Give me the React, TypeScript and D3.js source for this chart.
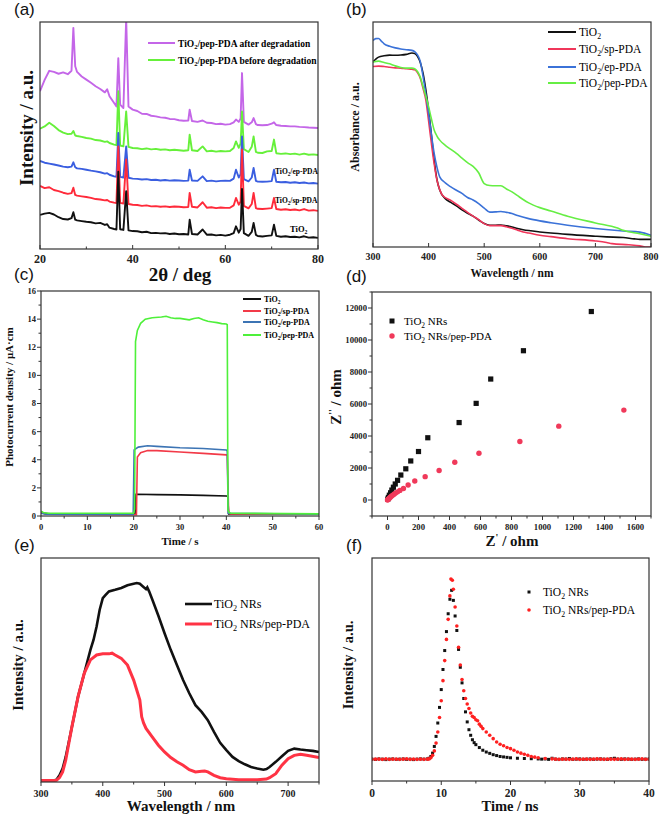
import React from 'react';
import * as d3 from 'd3';

type Pt = [number, number];

// ---------- (a) XRD patterns (normalised intensity 0-100) ----------
const xrdAngles = [20, 21, 22, 23, 24, 25, 26, 26.8, 27.2, 27.6, 28, 29, 30, 31, 32, 33, 34, 34.5, 35, 36, 36.5, 36.9, 37.3, 38, 38.6, 39.1, 40, 41, 42, 43, 44, 45, 46, 47, 48, 49, 50, 51, 52, 52.3, 52.8, 54, 55.1, 56, 57, 58, 59, 60, 61, 61.8, 62.3, 62.9, 63.3, 63.6, 64, 65, 65.7, 66.1, 66.6, 67, 68, 69, 70, 70.5, 71, 72, 73, 74, 75, 76, 77, 78, 79, 80];
const xrdTiO2 = [15.0, 15.6, 15.9, 15.2, 14.0, 13.2, 13.0, 13.6, 16.2, 12.9, 12.6, 12.3, 12.0, 11.8, 11.3, 11.5, 10.6, 10.9, 9.4, 8.8, 8.6, 34.0, 8.7, 8.4, 25.5, 8.2, 7.9, 7.8, 7.4, 7.6, 7.0, 7.1, 6.9, 7.0, 6.6, 6.8, 6.5, 6.6, 6.4, 12.9, 6.6, 6.4, 8.6, 6.3, 6.4, 6.0, 6.2, 5.9, 6.3, 7.0, 10.0, 7.2, 8.8, 26.5, 7.0, 5.8, 7.5, 11.5, 6.2, 5.7, 5.5, 5.8, 6.0, 10.7, 5.8, 5.4, 5.6, 5.3, 5.4, 5.1, 5.6, 5.0, 5.2, 4.9];
const xrdSp = [27.8, 26.8, 27.2, 26.0, 25.5, 24.8, 24.3, 24.6, 27.0, 23.8, 23.5, 23.2, 22.9, 22.5, 22.0, 21.8, 21.4, 21.6, 20.9, 20.4, 20.2, 45.2, 20.3, 20.0, 39.4, 19.8, 19.5, 19.4, 19.0, 19.2, 18.8, 18.9, 18.6, 18.8, 18.5, 18.7, 18.6, 18.4, 18.5, 24.7, 18.6, 18.3, 20.6, 18.2, 18.4, 18.0, 18.3, 18.1, 18.2, 19.2, 22.5, 19.5, 21.0, 43.8, 19.0, 17.9, 19.8, 24.7, 18.0, 17.7, 17.6, 17.8, 18.0, 22.5, 17.6, 17.3, 17.5, 17.2, 17.4, 17.0, 17.6, 16.9, 17.1, 16.8];
const xrdEp = [38.8, 38.0, 37.6, 37.2, 36.8, 36.3, 36.0, 36.3, 38.2, 36.0, 35.5, 35.3, 34.9, 34.5, 34.2, 33.8, 33.2, 33.4, 32.7, 32.0, 31.8, 51.1, 31.8, 31.5, 45.2, 31.4, 31.0, 30.9, 30.6, 30.8, 30.4, 30.5, 30.2, 30.4, 30.1, 30.3, 30.2, 30.0, 30.1, 34.9, 30.2, 30.0, 32.0, 29.9, 30.1, 29.8, 30.0, 30.1, 30.0, 31.0, 34.9, 31.5, 33.0, 49.6, 30.8, 29.8, 31.5, 35.7, 30.0, 29.7, 29.6, 29.7, 29.9, 34.9, 29.6, 29.4, 29.5, 29.2, 29.4, 29.1, 29.3, 28.9, 29.1, 28.8];
const xrdBefore = [53.0, 54.0, 55.6, 54.2, 52.4, 51.3, 50.6, 50.8, 52.0, 50.0, 49.8, 49.4, 48.9, 48.6, 48.0, 47.8, 47.2, 47.4, 46.7, 46.0, 45.8, 69.5, 45.6, 45.2, 60.6, 45.0, 44.5, 44.4, 44.0, 44.3, 43.9, 44.1, 43.7, 43.9, 43.5, 43.7, 43.5, 43.3, 43.5, 50.4, 43.5, 43.2, 45.2, 43.0, 43.3, 42.9, 43.2, 43.0, 43.2, 44.5, 47.4, 44.6, 46.5, 60.6, 44.0, 42.7, 45.0, 49.6, 42.8, 42.4, 42.3, 43.0, 43.2, 48.2, 42.2, 41.9, 42.1, 41.8, 42.0, 41.6, 42.0, 41.5, 41.7, 41.4];
const xrdAfter = [69.5, 74.5, 78.5, 78.0, 77.2, 77.8, 77.0, 78.5, 97.4, 80.5, 78.0, 76.0, 74.6, 73.2, 71.7, 70.5, 69.0, 70.4, 67.3, 64.3, 62.8, 84.1, 63.6, 62.1, 101.5, 62.8, 61.4, 60.8, 59.6, 59.5, 58.7, 58.4, 58.0, 57.8, 57.3, 57.2, 56.7, 56.5, 56.6, 61.4, 56.4, 56.0, 56.6, 55.6, 55.5, 55.0, 55.2, 54.8, 55.0, 55.8, 57.0, 56.0, 57.5, 77.5, 56.0, 54.8, 55.8, 57.7, 55.0, 54.6, 54.5, 54.6, 55.2, 55.8, 54.6, 54.3, 54.2, 54.0, 54.0, 53.8, 53.7, 53.5, 53.4, 53.3];
const xrdTicks = [20, 40, 60, 80];
const xrdMinor = [30, 50, 70];

// ---------- (b) UV-vis absorbance ----------
const absTiO2: Pt[] = [[300, 82.2], [305, 83.5], [310, 84.4], [320, 85.0], [330, 85.3], [340, 85.2], [350, 85.3], [360, 85.6], [370, 86.2], [375, 86.0], [380, 84.7], [385, 82.0], [390, 77.3], [395, 70.0], [400, 60.9], [405, 50.0], [410, 38.6], [415, 30.0], [420, 25.3], [430, 21.5], [440, 19.8], [450, 18.3], [460, 16.5], [470, 15.0], [480, 13.7], [490, 12.0], [500, 10.4], [510, 9.7], [520, 9.7], [530, 9.8], [540, 9.4], [550, 8.9], [560, 8.2], [570, 7.7], [580, 7.3], [600, 6.7], [620, 6.2], [650, 5.6], [700, 4.8], [720, 4.5], [750, 4.2], [770, 3.6], [780, 3.4], [800, 3.4]];
const absSp: Pt[] = [[300, 80.2], [310, 80.4], [320, 80.2], [330, 79.9], [340, 79.6], [350, 79.5], [360, 79.2], [370, 79.0], [375, 78.8], [380, 77.5], [385, 75.0], [390, 70.5], [395, 65.4], [400, 56.0], [405, 46.1], [410, 37.0], [415, 29.7], [420, 25.5], [425, 23.0], [440, 20.7], [450, 19.0], [460, 17.2], [470, 15.4], [480, 13.7], [490, 12.2], [500, 10.4], [510, 9.5], [520, 9.5], [530, 9.5], [540, 9.0], [550, 8.3], [560, 7.5], [570, 6.7], [580, 6.2], [600, 5.2], [620, 4.6], [650, 3.7], [700, 2.7], [720, 2.0], [730, 1.5], [760, 1.0], [780, 0.5], [790, 0.0], [800, 0.0]];
const absEp: Pt[] = [[300, 91.8], [305, 92.6], [310, 92.7], [315, 91.5], [320, 90.3], [330, 89.2], [340, 88.5], [350, 88.0], [360, 87.7], [370, 87.4], [375, 86.8], [380, 85.4], [385, 82.5], [390, 75.8], [395, 68.0], [400, 59.4], [405, 50.0], [410, 41.6], [415, 35.5], [420, 31.2], [430, 28.5], [440, 26.7], [450, 25.2], [460, 23.8], [470, 22.0], [480, 20.9], [490, 19.3], [500, 17.3], [510, 15.5], [520, 15.6], [530, 15.8], [540, 15.4], [550, 14.9], [560, 14.0], [580, 12.6], [600, 11.6], [620, 10.8], [650, 9.7], [700, 8.2], [750, 7.1], [780, 6.6], [800, 5.2]];
const absPep: Pt[] = [[300, 82.2], [310, 82.6], [320, 82.0], [330, 81.4], [340, 80.5], [350, 79.8], [360, 79.5], [370, 79.5], [375, 79.2], [380, 78.0], [385, 75.5], [390, 71.3], [395, 67.0], [400, 62.4], [405, 57.0], [410, 52.0], [415, 49.3], [420, 47.5], [430, 45.2], [440, 43.4], [450, 41.6], [460, 39.5], [470, 37.5], [480, 35.8], [490, 33.0], [500, 28.2], [510, 27.3], [520, 27.2], [530, 27.2], [540, 25.8], [550, 24.5], [560, 22.8], [570, 21.1], [580, 19.6], [600, 17.5], [620, 16.0], [650, 13.7], [700, 10.7], [740, 8.4], [750, 7.4], [780, 5.9], [800, 4.8]];
const absTicks = [300, 400, 500, 600, 700, 800];

// ---------- (c) photocurrent ----------
const pcTiO2: Pt[] = [[0, 0.3], [0.5, 0.2], [2, 0.15], [20.3, 0.15], [20.5, 1.55], [25, 1.52], [30, 1.5], [35, 1.47], [40, 1.42], [40.3, 1.4], [40.5, 0.15], [60, 0.15]];
const pcSp: Pt[] = [[0, 0.25], [1, 0.12], [20.6, 0.1], [20.8, 4.2], [21.5, 4.5], [23, 4.65], [25, 4.65], [30, 4.55], [35, 4.45], [40, 4.35], [40.2, 4.3], [40.5, 0.2], [41, 0.15], [60, 0.12]];
const pcEp: Pt[] = [[0, 0.2], [1, 0.12], [19.9, 0.12], [20.1, 4.7], [21, 4.9], [23, 5.0], [25, 4.95], [30, 4.85], [35, 4.8], [40, 4.7], [40.2, 4.6], [40.4, 0.2], [60, 0.12]];
const pcPep: Pt[] = [[0, 0.35], [0.5, 0.25], [1.5, 0.2], [20, 0.2], [20.2, 0.5], [20.4, 12.4], [20.8, 13.2], [21.5, 13.7], [22.5, 14.0], [24, 14.1], [26, 14.15], [27, 14.2], [28, 14.1], [29, 14.05], [30, 14.05], [31, 14.0], [32, 13.95], [33, 14.05], [34, 14.1], [35, 13.95], [36, 13.85], [37, 13.8], [38, 13.75], [39, 13.68], [40, 13.65], [40.2, 13.6], [40.35, 0.4], [40.6, 0.25], [41, 0.2], [60, 0.15]];
const pcXTicks = [0, 10, 20, 30, 40, 50, 60];
const pcXMinor = [5, 15, 25, 35, 45, 55];
const pcYTicks = [0, 2, 4, 6, 8, 10, 12, 14, 16];
const pcYMinor = [1, 3, 5, 7, 9, 11, 13, 15];

// ---------- (d) Nyquist ----------
const eisTiO2: Pt[] = [[1315, 11780], [877, 9330], [666, 7560], [572, 6040], [462, 4840], [260, 3890], [200, 3030], [150, 2440], [118, 1950], [86, 1560], [65, 1230], [50, 1000], [38, 800], [28, 620], [20, 450], [12, 300], [6, 160], [2, 60]];
const eisPep: Pt[] = [[1525, 5620], [1105, 4615], [854, 3655], [590, 2925], [434, 2360], [333, 1840], [243, 1460], [176, 1190], [133, 940], [103, 720], [80, 600], [65, 510], [52, 430], [42, 360], [33, 290], [25, 230], [18, 170], [12, 115], [7, 70], [3, 30], [0, 0]];
const eisXTicks = [0, 200, 400, 600, 800, 1000, 1200, 1400, 1600];
const eisXMinor = [-100, 100, 300, 500, 700, 900, 1100, 1300, 1500, 1700];
const eisYTicks = [0, 2000, 4000, 6000, 8000, 10000, 12000];
const eisYMinor = [-1000, 1000, 3000, 5000, 7000, 9000, 11000, 13000];

// ---------- (e) PL spectra ----------
const plTiO2: Pt[] = [[300, 0.7], [320, 0.7], [325, 1.0], [330, 3.0], [335, 6.0], [340, 11.2], [345, 17.9], [350, 24.6], [360, 38.1], [370, 48.5], [380, 59.0], [385, 63.4], [390, 69.4], [395, 76.9], [400, 82.1], [405, 83.6], [410, 85.1], [420, 85.8], [430, 86.6], [440, 87.8], [450, 88.5], [455, 88.8], [460, 88.5], [465, 87.3], [470, 86.1], [472, 86.9], [475, 85.1], [480, 81.6], [490, 74.2], [500, 66.4], [510, 59.0], [520, 52.2], [530, 45.5], [540, 39.6], [550, 34.3], [560, 31.3], [570, 27.6], [580, 22.4], [590, 17.5], [600, 14.2], [610, 11.2], [620, 9.3], [630, 7.9], [640, 6.7], [650, 6.0], [660, 5.5], [665, 5.8], [670, 6.7], [680, 9.0], [690, 11.5], [700, 13.9], [710, 14.9], [720, 14.5], [730, 14.2], [740, 13.9], [750, 13.4]];
const plPep: Pt[] = [[300, 0.7], [320, 0.7], [325, 0.8], [330, 2.0], [335, 4.5], [340, 9.7], [345, 17.2], [350, 24.6], [360, 38.1], [370, 48.5], [380, 54.5], [390, 56.7], [400, 57.2], [410, 57.2], [415, 57.5], [420, 56.7], [430, 55.2], [440, 52.2], [450, 45.5], [460, 36.6], [463, 29.1], [466, 26.4], [470, 23.9], [480, 20.1], [490, 16.4], [500, 13.4], [510, 10.9], [520, 9.0], [530, 7.5], [540, 5.5], [550, 4.5], [560, 4.8], [565, 4.9], [570, 4.5], [580, 3.0], [590, 1.9], [600, 1.5], [620, 1.0], [650, 1.0], [665, 1.3], [670, 1.9], [680, 3.7], [690, 7.5], [700, 10.4], [710, 11.9], [720, 12.4], [730, 11.9], [750, 10.9]];
const plTicks = [300, 400, 500, 600, 700];
const plMinor = [350, 450, 550, 650, 750];

// ---------- (f) TRPL decay ----------
const trTiO2: Pt[] = [[0, 9.8], [0.5, 9.7], [1, 9.9], [1.5, 9.8], [2, 9.6], [2.5, 9.8], [3, 9.9], [3.5, 9.7], [4, 9.8], [4.5, 9.9], [5, 9.7], [5.5, 9.8], [6, 9.6], [6.5, 9.8], [7, 9.9], [7.5, 9.8], [8, 9.9], [8.25, 10.2], [8.5, 11.0], [8.75, 12.5], [9, 15.5], [9.25, 20.0], [9.5, 26.0], [9.75, 33.0], [10, 41.0], [10.25, 50.0], [10.5, 58.5], [10.75, 67.0], [11, 75.0], [11.25, 81.5], [11.5, 85.5], [11.75, 81.0], [12, 74.0], [12.25, 67.5], [12.5, 59.0], [12.75, 51.0], [13, 44.0], [13.25, 37.0], [13.5, 31.0], [13.75, 26.5], [14, 23.0], [14.25, 20.5], [14.5, 18.5], [14.75, 17.2], [15, 16.3], [15.5, 15.0], [16, 13.8], [16.5, 13.0], [17, 12.4], [17.5, 11.8], [18, 11.4], [18.5, 11.0], [19, 10.8], [19.5, 10.6], [20, 10.4], [21, 10.2], [22, 10.1], [23, 10.0], [24, 9.9], [24.5, 9.8], [25, 9.9], [25.5, 9.7], [26, 10.2], [26.5, 9.8], [27, 9.7], [27.5, 9.9], [28, 9.8], [28.5, 10.1], [29, 9.7], [29.5, 9.8], [30, 9.9], [30.5, 9.7], [31, 9.8], [31.5, 9.9], [32, 9.7], [32.5, 9.8], [33, 9.9], [33.5, 9.8], [34, 9.7], [34.5, 10.0], [35, 10.2], [35.5, 9.8], [36, 9.7], [36.5, 9.9], [37, 9.8], [37.5, 9.7], [38, 9.8], [38.5, 9.9], [39, 9.7], [39.5, 9.8], [40, 9.8]];
const trPep: Pt[] = [[0, 9.7], [0.5, 9.8], [1, 9.8], [1.5, 9.7], [2, 9.9], [2.5, 9.7], [3, 9.8], [3.5, 9.8], [4, 9.7], [4.5, 9.8], [5, 9.9], [5.5, 9.7], [6, 9.8], [6.5, 9.7], [7, 9.8], [7.5, 9.7], [8, 9.8], [8.25, 9.9], [8.5, 10.4], [8.75, 11.5], [9, 13.5], [9.25, 17.0], [9.5, 22.0], [9.75, 28.5], [10, 36.0], [10.25, 45.0], [10.5, 54.0], [10.75, 63.5], [11, 72.5], [11.25, 83.0], [11.4, 90.6], [11.6, 90.0], [11.75, 86.0], [12, 78.0], [12.25, 69.5], [12.5, 60.0], [12.75, 52.0], [13, 45.5], [13.25, 40.5], [13.5, 37.0], [13.75, 34.5], [14, 32.5], [14.25, 30.5], [14.5, 29.0], [14.75, 28.5], [15, 27.5], [15.25, 27.0], [15.5, 25.5], [15.75, 24.5], [16, 23.5], [16.5, 22.0], [17, 20.5], [17.5, 19.0], [18, 17.5], [18.5, 16.5], [19, 15.8], [19.5, 15.0], [20, 14.5], [20.5, 13.8], [21, 13.0], [21.5, 12.5], [22, 12.0], [22.5, 11.5], [23, 11.0], [23.5, 10.7], [24, 10.4], [25, 10.1], [26, 9.9], [26.5, 9.8], [27, 9.7], [27.5, 9.8], [28, 9.8], [28.5, 9.7], [29, 9.8], [29.5, 9.9], [30, 9.7], [30.5, 9.8], [31, 9.8], [31.5, 9.7], [32, 9.8], [32.5, 9.9], [33, 9.8], [33.5, 9.7], [34, 9.8], [34.5, 9.8], [35, 9.7], [35.5, 9.8], [36, 9.9], [36.5, 9.7], [37, 9.8], [37.5, 9.8], [38, 9.7], [38.5, 9.8], [39, 9.9], [39.5, 9.7], [40, 9.8]];
const trTicks = [0, 10, 20, 30, 40];
const trMinor = [5, 15, 25, 35];

const serif = '"Liberation Serif", "Times New Roman", serif';
const sans = '"Liberation Sans", Arial, sans-serif';

type Box = { l: number; r: number; t: number; b: number };
type Scale = d3.ScaleLinear<number, number>;

// TiO2 -> TiO<sub>2</sub>
function rich(s: string, fs: number) {
  const parts = s.split('TiO2');
  const out: React.ReactNode[] = [];
  parts.forEach((p, i) => {
    if (i > 0) {
      out.push(<tspan key={`o${i}`}>TiO</tspan>);
      out.push(<tspan key={`s${i}`} dy={fs * 0.28} fontSize={fs * 0.68}>2</tspan>);
      if (p) out.push(<tspan key={`r${i}`} dy={-fs * 0.28}>{p}</tspan>);
    } else if (p) out.push(<tspan key={`p${i}`}>{p}</tspan>);
  });
  return out;
}

interface PanelProps {
  id: string;
  box: Box;
  xDomain: [number, number];
  yDomain: [number, number];
  xTicks: number[];
  xMinor?: number[];
  yTicks?: number[];
  yMinor?: number[];
  tickOut: boolean;
  tickFs: number;
  xLabelY: number;
  yLabelX?: number;
  children: (x: Scale, y: Scale) => React.ReactNode;
}

function Panel(p: PanelProps) {
  const { box } = p;
  const x = d3.scaleLinear().domain(p.xDomain).range([box.l, box.r]);
  const y = d3.scaleLinear().domain(p.yDomain).range([box.b, box.t]);
  const d = p.tickOut ? 1 : -1;
  const tk = { stroke: '#333', strokeWidth: 1 };
  return (
    <g>
      <defs>
        <clipPath id={p.id}>
          <rect x={box.l} y={box.t} width={box.r - box.l} height={box.b - box.t} />
        </clipPath>
      </defs>
      <g clipPath={`url(#${p.id})`}>{p.children(x, y)}</g>
      <rect x={box.l} y={box.t} width={box.r - box.l} height={box.b - box.t} fill="none" stroke="#333" strokeWidth={1.2} />
      {p.xTicks.map((v) => (
        <line key={`xt${v}`} x1={x(v)} x2={x(v)} y1={box.b} y2={box.b + d * 4} {...tk} />
      ))}
      {(p.xMinor || []).map((v) => (
        <line key={`xm${v}`} x1={x(v)} x2={x(v)} y1={box.b} y2={box.b + d * 2.5} {...tk} />
      ))}
      {(p.yTicks || []).map((v) => (
        <line key={`yt${v}`} x1={box.l} x2={box.l - d * 4} y1={y(v)} y2={y(v)} {...tk} />
      ))}
      {(p.yMinor || []).map((v) => (
        <line key={`ym${v}`} x1={box.l} x2={box.l - d * 2.5} y1={y(v)} y2={y(v)} {...tk} />
      ))}
      {p.xTicks.map((v) => (
        <text key={`xl${v}`} x={x(v)} y={p.xLabelY} textAnchor="middle" fontSize={p.tickFs} fontWeight="bold" fontFamily={serif} fill="#222">
          {v}
        </text>
      ))}
      {p.yLabelX !== undefined &&
        (p.yTicks || []).map((v) => (
          <text key={`yl${v}`} x={p.yLabelX} y={y(v) + p.tickFs * 0.35} textAnchor="end" fontSize={p.tickFs} fontWeight="bold" fontFamily={serif} fill="#222">
            {v}
          </text>
        ))}
    </g>
  );
}

const lineOf = (x: Scale, y: Scale) =>
  d3
    .line<Pt>()
    .x((d) => x(d[0]))
    .y((d) => y(d[1]));

const zip = (xs: number[], ys: number[]): Pt[] => xs.map((v, i) => [v, ys[i]] as Pt);

const RotLabel = ({ x, y, fs, children }: { x: number; y: number; fs: number; children: React.ReactNode }) => (
  <text transform={`translate(${x},${y}) rotate(-90)`} textAnchor="middle" fontSize={fs} fontWeight="bold" fontFamily={serif} fill="#111">
    {children}
  </text>
);

const Title = ({ x, y, fs, children }: { x: number; y: number; fs: number; children: React.ReactNode }) => (
  <text x={x} y={y} textAnchor="middle" fontSize={fs} fontWeight="bold" fontFamily={serif} fill="#111">
    {children}
  </text>
);

const Tag = ({ x, y, s }: { x: number; y: number; s: string }) => (
  <text x={x} y={y} fontSize={17} fontFamily={sans} fill="#111">
    {s}
  </text>
);

export default function App() {
  const xrdSeries = [
    { ys: xrdAfter, c: '#c466e8' },
    { ys: xrdBefore, c: '#66f03a' },
    { ys: xrdEp, c: '#3a5ee0' },
    { ys: xrdSp, c: '#ff2a3a' },
    { ys: xrdTiO2, c: '#111111' },
  ];
  const absSeries = [
    { d: absTiO2, c: '#111111', n: 'TiO2' },
    { d: absSp, c: '#f0365a', n: 'TiO2/sp-PDA' },
    { d: absEp, c: '#3b72d8', n: 'TiO2/ep-PDA' },
    { d: absPep, c: '#66ee44', n: 'TiO2/pep-PDA' },
  ];
  const pcSeries = [
    { d: pcTiO2, c: '#111111', n: 'TiO2' },
    { d: pcSp, c: '#f23a48', n: 'TiO2/sp-PDA' },
    { d: pcEp, c: '#3c74b4', n: 'TiO2/ep-PDA' },
    { d: pcPep, c: '#4ef03a', n: 'TiO2/pep-PDA' },
  ];
  const absRows = [32, 49, 67, 83];
  const pcRows = [299, 311, 322, 335];

  return (
    <svg width={661} height={818} style={{ position: 'absolute', left: 0, top: 0, background: '#fff' }}>
      {/* (a) */}
      <Tag x={14} y={15} s="(a)" />
      <Panel id="ca" box={{ l: 40, r: 318, t: 22, b: 249 }} xDomain={[20, 80]} yDomain={[0, 100]} xTicks={xrdTicks} xMinor={xrdMinor} tickOut={false} tickFs={12} xLabelY={263}>
        {(x, y) =>
          xrdSeries.map((s, i) => (
            <path key={i} d={lineOf(x, y)(zip(xrdAngles, s.ys)) || ''} fill="none" stroke={s.c} strokeWidth={1.9} strokeLinejoin="round" />
          ))
        }
      </Panel>
      <line x1={148} x2={175} y1={43} y2={43} stroke="#c466e8" strokeWidth={2} />
      <line x1={148} x2={175} y1={60} y2={60} stroke="#66f03a" strokeWidth={2} />
      <text x={178} y={46.5} fontSize={9.5} fontWeight="bold" fontFamily={serif}>{rich('TiO2/pep-PDA after degradation', 9.5)}</text>
      <text x={178} y={63.5} fontSize={9.5} fontWeight="bold" fontFamily={serif}>{rich('TiO2/pep-PDA before degradation', 9.5)}</text>
      <text x={275} y={174} fontSize={7.5} fontWeight="bold" fontFamily={serif}>{rich('TiO2/ep-PDA', 7.5)}</text>
      <text x={275} y={203} fontSize={7.5} fontWeight="bold" fontFamily={serif}>{rich('TiO2/sp-PDA', 7.5)}</text>
      <text x={290} y={232} fontSize={8.5} fontWeight="bold" fontFamily={serif}>{rich('TiO2', 8.5)}</text>
      <Title x={180} y={281} fs={19}>2θ / deg</Title>
      <RotLabel x={33} y={128} fs={19}>Intensity / a.u.</RotLabel>

      {/* (b) */}
      <Tag x={346} y={15} s="(b)" />
      <Panel id="cb" box={{ l: 373, r: 651, t: 22, b: 247 }} xDomain={[300, 800]} yDomain={[0, 100]} xTicks={absTicks} tickOut={false} tickFs={10} xLabelY={260}>
        {(x, y) =>
          absSeries.map((s, i) => (
            <path key={i} d={lineOf(x, y).curve(d3.curveMonotoneX)(s.d) || ''} fill="none" stroke={s.c} strokeWidth={1.6} />
          ))
        }
      </Panel>
      {absSeries.map((s, i) => (
        <g key={i}>
          <line x1={548} x2={576} y1={absRows[i]} y2={absRows[i]} stroke={s.c} strokeWidth={2} />
          <text x={579} y={absRows[i] + 4} fontSize={11.5} fontFamily={serif}>{rich(s.n, 11.5)}</text>
        </g>
      ))}
      <Title x={512} y={277} fs={11.5}>Wavelength / nm</Title>
      <RotLabel x={359} y={127} fs={12}>Absorbance / a.u.</RotLabel>

      {/* (c) */}
      <Tag x={14} y={280} s="(c)" />
      <Panel id="cc" box={{ l: 41, r: 319, t: 291, b: 516 }} xDomain={[0, 60]} yDomain={[0, 16]} xTicks={pcXTicks} xMinor={pcXMinor} yTicks={pcYTicks} yMinor={pcYMinor} tickOut={true} tickFs={8.5} xLabelY={530} yLabelX={36}>
        {(x, y) =>
          pcSeries.map((s, i) => (
            <path key={i} d={lineOf(x, y)(s.d) || ''} fill="none" stroke={s.c} strokeWidth={1.6} />
          ))
        }
      </Panel>
      {pcSeries.map((s, i) => (
        <g key={i}>
          <line x1={243} x2={261} y1={pcRows[i]} y2={pcRows[i]} stroke={s.c} strokeWidth={2} />
          <text x={264} y={pcRows[i] + 3} fontSize={8} fontWeight="bold" fontFamily={serif}>{rich(s.n, 8)}</text>
        </g>
      ))}
      <Title x={180} y={545} fs={11}>Time / s</Title>
      <RotLabel x={13} y={397} fs={11}>Photocurrent density / μA·cm</RotLabel>

      {/* (d) */}
      <Tag x={346} y={282} s="(d)" />
      <Panel id="cd" box={{ l: 372, r: 651, t: 292, b: 516 }} xDomain={[-100, 1700]} yDomain={[-1000, 13000]} xTicks={eisXTicks} xMinor={eisXMinor} yTicks={eisYTicks} yMinor={eisYMinor} tickOut={true} tickFs={8.7} xLabelY={530} yLabelX={367}>
        {(x, y) => (
          <g>
            {eisTiO2.map((d, i) => (
              <rect key={`s${i}`} x={x(d[0]) - 2.6} y={y(d[1]) - 2.6} width={5.2} height={5.2} fill="#111" />
            ))}
            {eisPep.map((d, i) => (
              <circle key={`c${i}`} cx={x(d[0])} cy={y(d[1])} r={2.7} fill="#f0395a" />
            ))}
          </g>
        )}
      </Panel>
      <rect x={389.5} y={318.5} width={5} height={5} fill="#111" />
      <circle cx={392} cy={336} r={2.7} fill="#f0395a" />
      <text x={404} y={325} fontSize={11} fontFamily={serif}>{rich('TiO2 NRs', 11)}</text>
      <text x={404} y={340} fontSize={11} fontFamily={serif}>{rich('TiO2 NRs/pep-PDA', 11)}</text>
      <text x={512} y={546} textAnchor="middle" fontSize={15} fontWeight="bold" fontFamily={serif} fill="#111">
        Z<tspan dy={-5} fontSize={10}>'</tspan>
        <tspan dy={5}> / ohm</tspan>
      </text>
      <text transform="translate(341,397) rotate(-90)" textAnchor="middle" fontSize={15} fontWeight="bold" fontFamily={serif} fill="#111">
        Z<tspan dy={-5} fontSize={10}>''</tspan>
        <tspan dy={5}> / ohm</tspan>
      </text>

      {/* (e) */}
      <Tag x={14} y={551} s="(e)" />
      <Panel id="ce" box={{ l: 41, r: 319, t: 558, b: 782 }} xDomain={[300, 750]} yDomain={[0, 100]} xTicks={plTicks} xMinor={plMinor} tickOut={true} tickFs={10} xLabelY={797}>
        {(x, y) => (
          <g>
            <path d={lineOf(x, y)(plTiO2) || ''} fill="none" stroke="#111" strokeWidth={2.6} />
            <path d={lineOf(x, y)(plPep) || ''} fill="none" stroke="#ff3344" strokeWidth={3} />
          </g>
        )}
      </Panel>
      <line x1={185} x2={212} y1={604} y2={604} stroke="#111" strokeWidth={2.6} />
      <line x1={185} x2={212} y1={624} y2={624} stroke="#ff3344" strokeWidth={3} />
      <text x={214} y={608} fontSize={12} fontFamily={serif}>{rich('TiO2 NRs', 12)}</text>
      <text x={214} y={628} fontSize={12} fontFamily={serif}>{rich('TiO2 NRs/pep-PDA', 12)}</text>
      <Title x={181} y={811} fs={15}>Wavelength / nm</Title>
      <RotLabel x={23} y={665} fs={15}>Intensity / a.u.</RotLabel>

      {/* (f) */}
      <Tag x={346} y={551} s="(f)" />
      <Panel id="cf" box={{ l: 372, r: 649, t: 558, b: 781 }} xDomain={[0, 40]} yDomain={[0, 100]} xTicks={trTicks} xMinor={trMinor} tickOut={true} tickFs={11.5} xLabelY={797}>
        {(x, y) => (
          <g>
            {trTiO2.map((d, i) => (
              <rect key={`s${i}`} x={x(d[0]) - 1.5} y={y(d[1]) - 1.5} width={3} height={3} fill="#111" />
            ))}
            {trPep.map((d, i) => (
              <circle key={`c${i}`} cx={x(d[0])} cy={y(d[1])} r={1.8} fill="#ff2020" />
            ))}
          </g>
        )}
      </Panel>
      <rect x={527.5} y={590.5} width={3} height={3} fill="#111" />
      <circle cx={529} cy={610} r={1.8} fill="#ff2020" />
      <text x={543} y={596} fontSize={11.5} fontFamily={serif}>{rich('TiO2 NRs', 11.5)}</text>
      <text x={543} y={614} fontSize={11.5} fontFamily={serif}>{rich('TiO2 NRs/pep-PDA', 11.5)}</text>
      <Title x={510} y={811} fs={14.5}>Time / ns</Title>
      <RotLabel x={353} y={665} fs={14.5}>Intensity / a.u.</RotLabel>
    </svg>
  );
}
